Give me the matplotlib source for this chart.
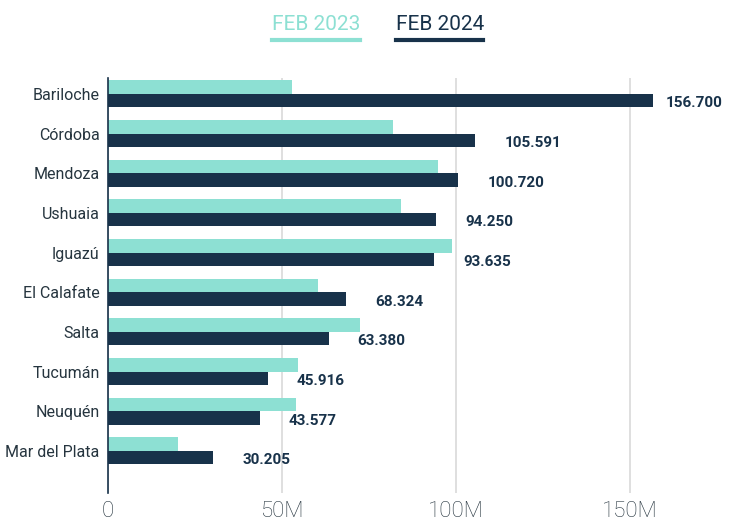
import matplotlib
matplotlib.use("Agg")
from matplotlib import pyplot as plt
from matplotlib.lines import Line2D
import numpy as np

cities = ['Bariloche', 'Córdoba', 'Mendoza', 'Ushuaia', 'Iguazú',
          'El Calafate', 'Salta', 'Tucumán', 'Neuquén', 'Mar del Plata']
feb_2023 = [52.9, 81.9, 94.8, 84.3, 98.9, 60.3, 72.4, 54.6, 54.0, 20.1]
feb_2024 = [156.700, 105.591, 100.720, 94.250, 93.635,
            68.324, 63.380, 45.916, 43.577, 30.205]
labels_2024 = ['156.700', '105.591', '100.720', '94.250', '93.635',
               '68.324', '63.380', '45.916', '43.577', '30.205']
xticks = [0, 50, 100, 150]
xtick_labels = ['0', '50M', '100M', '150M']

teal = '#8de0d3'
navy = '#18324a'
text_col = '#26353f'

plt.rcParams['font.family'] = ['Roboto', 'DejaVu Sans']

fig = plt.figure(figsize=(7.39, 5.25), dpi=100)
ax = fig.add_axes([0.1461, 0.061, 0.824, 0.7904])

y = np.arange(len(cities))
h = 0.34
ax.barh(y - h / 2, feb_2023, height=h, color=teal, zorder=3)
ax.barh(y + h / 2, feb_2024, height=h, color=navy, zorder=3)

for i, (v, lab) in enumerate(zip(feb_2024, labels_2024)):
    off = 9 if v > 150 else 21
    ax.annotate(lab, (v, i + h / 2), xytext=(off, -2), textcoords='offset points',
                ha='left', va='center', fontsize=11, fontweight='bold',
                color=navy, annotation_clip=False)

ax.set_ylim(len(cities) - 1 + 1.06, -0.4)
ax.set_xlim(0, 175)
ax.set_yticks(y)
ax.set_yticklabels(cities, fontsize=11.5, color=text_col)
ax.set_xticks(xticks)
ax.set_xticklabels(xtick_labels, fontsize=16, color=text_col, fontweight='light')
ax.tick_params(axis='both', length=0)
ax.tick_params(axis='y', pad=6)
ax.tick_params(axis='x', pad=6)
for s in ['top', 'right', 'bottom']:
    ax.spines[s].set_visible(False)
ax.spines['left'].set_color(navy)
ax.spines['left'].set_linewidth(1.2)
ax.spines['left'].set_zorder(4)
ax.grid(axis='x', color='#d9d9d9', lw=1.2, zorder=0)
ax.set_axisbelow(True)

# legend drawn as underlined text
fig.text(0.3681, 0.953, 'FEB 2023', color=teal, fontsize=15, ha='left', va='center')
fig.text(0.5359, 0.953, 'FEB 2024', color=navy, fontsize=15, ha='left', va='center')
fig.add_artist(Line2D([0.3681, 0.4871], [0.924, 0.924], color=teal, lw=3))
fig.add_artist(Line2D([0.5359, 0.6536], [0.924, 0.924], color=navy, lw=3))

plt.savefig('out.png', dpi=100)
